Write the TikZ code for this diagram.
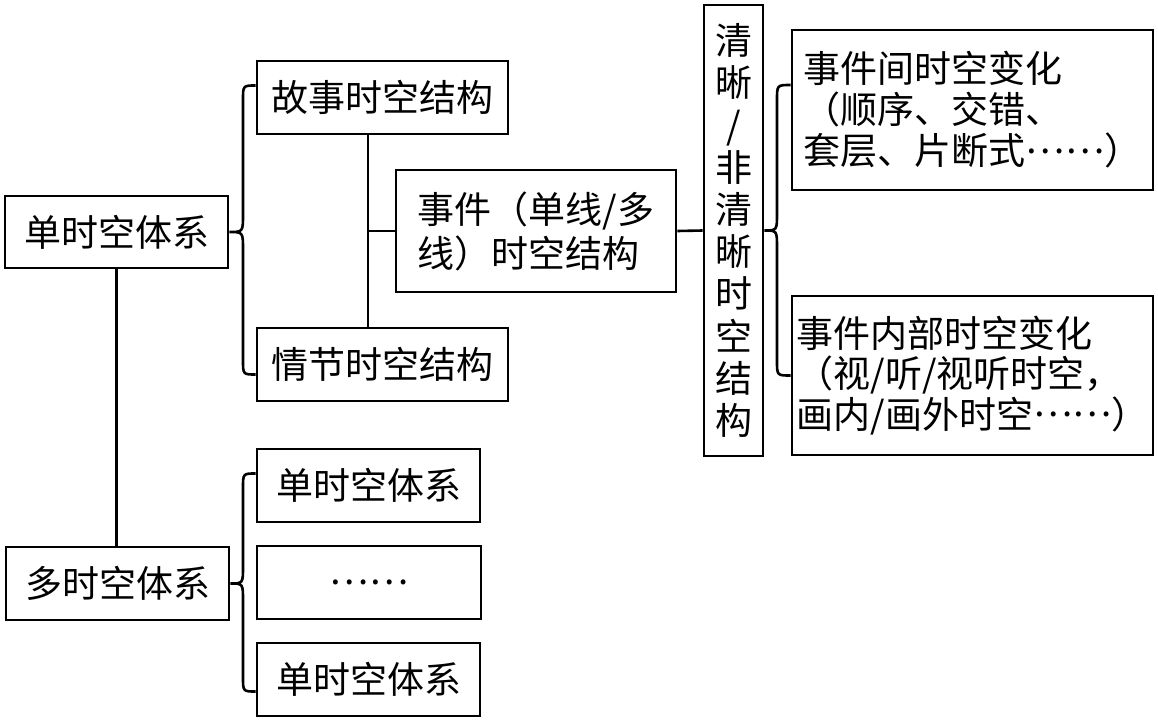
\documentclass[tikz,border=0pt]{standalone}
\usepackage{fontspec}
\setmainfont{Noto Sans CJK SC}
\newcommand{\midots}{\smash{\raisebox{0.32em}{……}}}
\begin{document}
\begin{tikzpicture}[x=1pt,y=-1pt,
  box/.style={draw, line width=2.6pt, inner sep=0pt, align=left,
    font=\fontsize{37}{42}\selectfont},
  conn/.style={line width=2.6pt}]
\useasboundingbox (0,0) rectangle (1158,720);
% nodes
\node[box, minimum width=223pt, minimum height=72pt] (dan) at (116.5,232) {单时空体系};
\node[box, minimum width=251pt, minimum height=73pt] (gushi) at (382.5,97.5) {故事时空结构};
\node[box, minimum width=251pt, minimum height=73pt] (qingjie) at (382.5,364.5) {情节时空结构};
\node[box, minimum width=280pt, minimum height=122pt, font=\fontsize{37}{44}\selectfont] (shijian) at (536,231) {事件（单线/多\\线）时空结构};
\node[box, minimum width=59pt, minimum height=451pt, align=center, font=\fontsize{37}{42.2}\selectfont] (qingxi) at (733.5,230.5) {清\\晰\\/\\非\\清\\晰\\时\\空\\结\\构};
\node[box, minimum width=361pt, minimum height=160pt, font=\fontsize{37}{41}\selectfont] (jian) at (972.5,110) {事件间时空变化\\（顺序、交错、\\套层、片断式\midots）};
\node[box, minimum width=361pt, minimum height=159pt, font=\fontsize{37}{40.5}\selectfont] (neibu) at (972.5,375.5) {事件内部时空变化\\（视/听/视听时空，\\画内/画外时空\midots）};
\node[box, minimum width=223pt, minimum height=73pt] (duo) at (117.5,583.5) {多时空体系};
\node[box, minimum width=223pt, minimum height=73pt] (sub1) at (368.5,485.5) {单时空体系};
\node[box, minimum width=224pt, minimum height=73pt] (subdots) at (369,582.5) {……};
\node[box, minimum width=223pt, minimum height=73pt] (sub2) at (368.5,679.5) {单时空体系};
% connectors
\coordinate (spine) at (368,231);
\draw[conn] (gushi.south -| spine) -- (qingjie.north -| spine);
\draw[conn] (spine) -- (shijian.west);
\draw[conn] (shijian.east) -- (qingxi.west);
\draw[conn] (dan.south) -- (duo.north -| dan.south);
% braces
\draw[conn] ([yshift=12pt]gushi.west) .. controls (243,85.5) .. (243,100) -- (243,214)
  .. controls (243,232) .. (dan.east) .. controls (243,232) .. (243,250) -- (243,360)
  .. controls (243,374.5) .. ([yshift=-10pt]qingjie.west);
\draw[conn] ([yshift=25pt]jian.west) .. controls (777,85) .. (777,100) -- (777,213)
  .. controls (777,230.5) .. (qingxi.east) .. controls (777,230.5) .. (777,248) -- (777,361)
  .. controls (777,375.5) .. (neibu.west);
\draw[conn] ([yshift=12pt]sub1.west) .. controls (243,473.5) .. (243,488) -- (243,566)
  .. controls (243,583.5) .. (duo.east) .. controls (243,583.5) .. (243,601) -- (243,677)
  .. controls (243,691.5) .. ([yshift=-12pt]sub2.west);
\end{tikzpicture}
\end{document}
